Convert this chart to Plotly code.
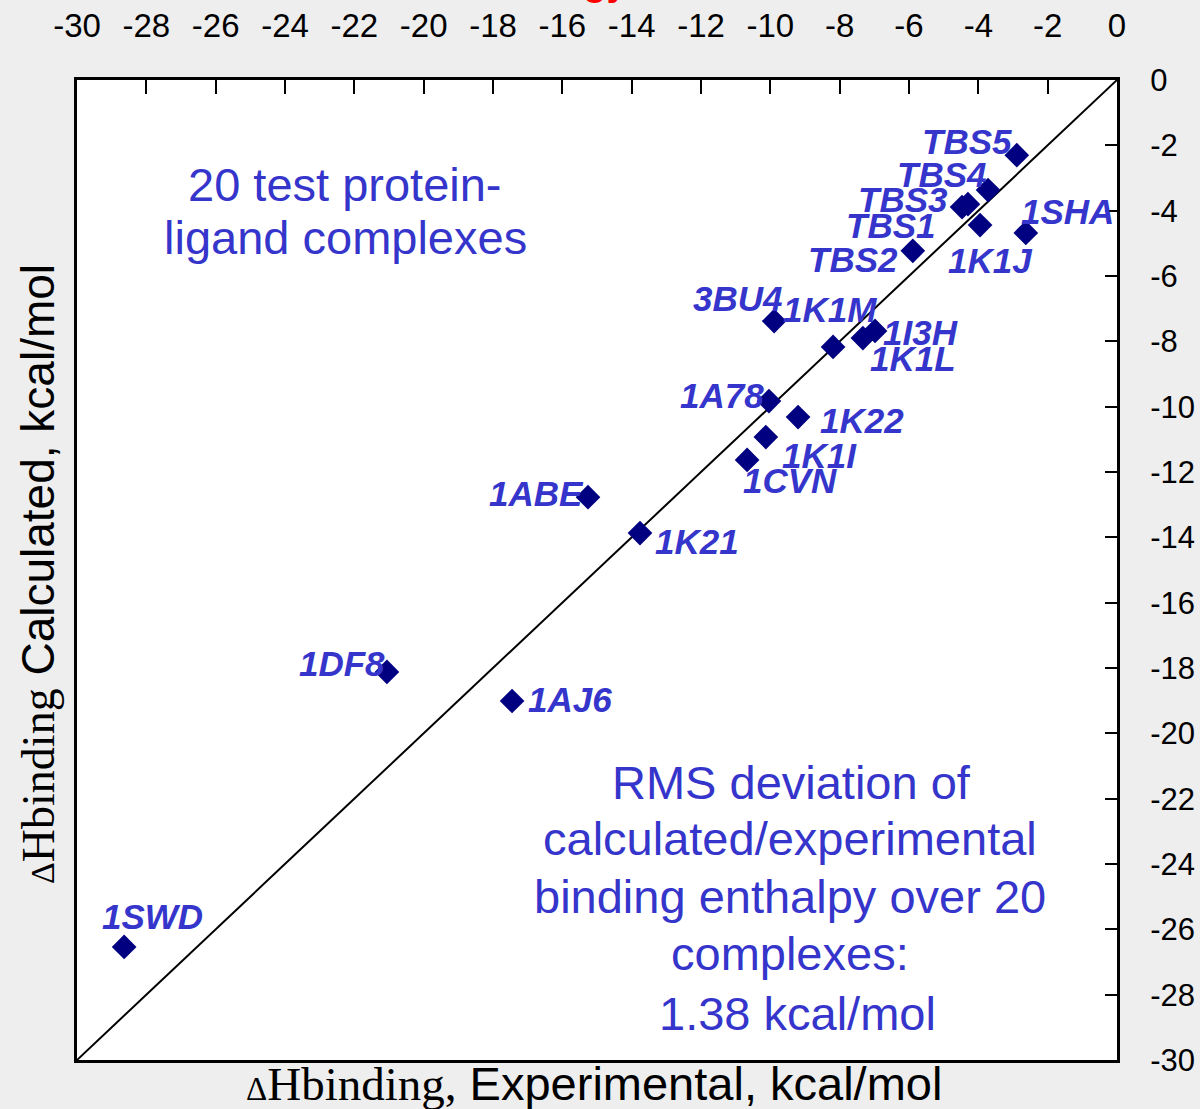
import plotly.graph_objects as go

# ---------------- data ----------------
complexes = ["TBS5", "TBS4", "TBS3", "TBS1", "1K1J", "1SHA", "TBS2", "3BU4", "1K1M", "1I3H",
             "1K1L", "1A78", "1K22", "1K1I", "1CVN", "1ABE", "1K21", "1DF8", "1AJ6", "1SWD"]
dh_experimental = [-2.89, -3.72, -4.47, -4.30, -3.95, -2.63, -5.89, -9.89, -8.19, -6.98,
                   -7.33, -10.04, -9.20, -10.13, -10.67, -15.26, -13.76, -21.06, -17.45, -28.64]
dh_calculated = [-2.30, -3.37, -3.89, -3.80, -4.44, -4.68, -5.23, -7.38, -8.17, -7.68,
                 -7.90, -9.83, -10.32, -10.93, -11.63, -12.77, -13.87, -18.12, -19.01, -26.54]
axis_range = [-30, 0]
tick_values = list(range(-30, 1, 2))
tick_labels = [str(v) for v in tick_values]
note_top_lines = ["20 test protein-", "ligand complexes"]
note_rms_lines = ["RMS deviation of", "calculated/experimental", "binding enthalpy over 20",
                  "complexes:", "1.38 kcal/mol"]
title_text = "Free Energy"

# ---------------- style ----------------
label_offsets = [(-50, -14), (-47, -16), (-59, -8), (-77, 21), (10, 35), (42, -21), (-60, 9),
                 (-37, -23), (-3, -37), (45, 2), (50, 20), (-47, -6), (64, 3), (54, 18),
                 (43, 21), (-51, -4), (57, 8), (-45, -8), (58, -1), (28, -30)]
top_note_pos = [(345, 185), (345, 238)]
rms_note_pos = [(791, 782), (790, 838), (790, 896), (790, 953), (797, 1013)]
W, H = 1200, 1109
L, R, T, B = 77, 83, 80, 49
PW, PH = W - L - R, H - T - B
BLUE = "#3535CC"
NAVY = "#000080"
SANS = "Liberation Sans, Arial, sans-serif"


def px(x):
    return (x - L) / PW


def py(y):
    return 1 - (y - T) / PH


fig = go.Figure()

fig.add_trace(go.Scatter(x=axis_range, y=axis_range, mode="lines",
                         line=dict(color="black", width=2), hoverinfo="skip",
                         showlegend=False))
fig.add_trace(go.Scatter(x=dh_experimental, y=dh_calculated, mode="markers",
                         marker=dict(symbol="diamond", size=19, color=NAVY),
                         text=complexes, showlegend=False, cliponaxis=False))

annotations = []
for name, xv, yv, (dx, dy) in zip(complexes, dh_experimental, dh_calculated, label_offsets):
    annotations.append(dict(x=xv, y=yv, xref="x", yref="y", text=name, showarrow=True,
                            arrowcolor="rgba(0,0,0,0)", ax=dx, ay=dy,
                            font=dict(family=SANS, size=35, color=BLUE,
                                      weight="bold", style="italic")))

for line, (xc, yc) in zip(note_top_lines, top_note_pos):
    annotations.append(dict(x=px(xc), y=py(yc), xref="paper", yref="paper", text=line,
                            showarrow=False, xanchor="center", yanchor="middle",
                            font=dict(family=SANS, size=47, color=BLUE)))
for line, (xc, yc) in zip(note_rms_lines, rms_note_pos):
    annotations.append(dict(x=px(xc), y=py(yc), xref="paper", yref="paper", text=line,
                            showarrow=False, xanchor="center", yanchor="middle",
                            font=dict(family=SANS, size=47, color=BLUE)))

serif = "font-family:'Liberation Serif','Times New Roman',serif"
x_title = (f"<span style=\"{serif};font-size:33px\">Δ</span>"
           f"<span style=\"{serif}\">Hbinding,</span> Experimental, kcal/mol")
y_title = (f"<span style=\"{serif};font-size:34px\">Δ</span>"
           f"<span style=\"{serif}\">Hbinding</span> Calculated, kcal/mol")
annotations.append(dict(x=px(594), y=py(1083), xref="paper", yref="paper", text=x_title,
                        showarrow=False, xanchor="center", yanchor="middle",
                        font=dict(family=SANS, size=47, color="black")))
annotations.append(dict(x=px(38), y=py(574), xref="paper", yref="paper", text=y_title,
                        showarrow=False, xanchor="center", yanchor="middle", textangle=-90,
                        font=dict(family=SANS, size=46, color="black")))
# partially visible red title at very top (cut by the page edge)
annotations.append(dict(x=px(630), y=py(5), xref="paper", yref="paper",
                        text=title_text, showarrow=False, xanchor="right",
                        yanchor="bottom",
                        font=dict(family=SANS, size=38, color="red", weight="bold")))

axis_common = dict(range=axis_range, tickvals=tick_values, ticktext=tick_labels,
                   ticks="inside", showgrid=False, zeroline=False, showline=True,
                   linecolor="black", linewidth=3, mirror=True, tickcolor="black",
                   tickwidth=2, automargin=False)

fig.update_layout(
    width=W, height=H,
    margin=dict(l=L, r=R, t=T, b=B, autoexpand=False),
    paper_bgcolor="#eeeeee",
    plot_bgcolor="white",
    showlegend=False,
    annotations=annotations,
    xaxis=dict(side="top", ticklen=14, ticklabelstandoff=27,
               tickfont=dict(family=SANS, size=33, color="black"), **axis_common),
    yaxis=dict(side="right", ticklen=12, ticklabelstandoff=24,
               tickfont=dict(family=SANS, size=31, color="black"), **axis_common),
)

fig.write_html("out.html")
